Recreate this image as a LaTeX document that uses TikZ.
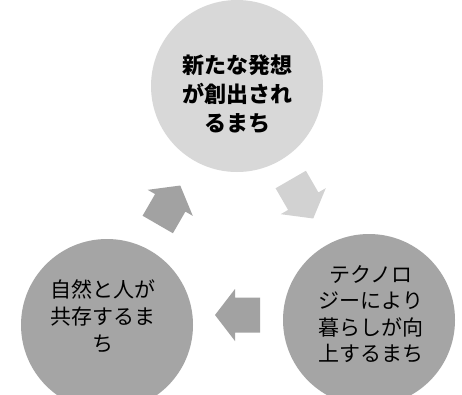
\documentclass[tikz,border=0pt]{standalone}
\usepackage{fontspec}
\newfontfamily\jpfont{Noto Sans CJK JP}
\definecolor{lightdisc}{HTML}{D8D8D8}
\definecolor{darkdisc}{HTML}{A5A5A5}
\definecolor{lightarrow}{HTML}{D2D2D2}
\definecolor{darkarrow}{HTML}{A2A2A2}

\begin{document}
\begin{tikzpicture}[x=1pt,y=-1pt,
    disc/.style={circle,inner sep=0pt,minimum size=172pt},
    disctext/.style={align=center,inner sep=0pt,text=black,font=\jpfont\fontsize{21}{27}\selectfont}]
                \useasboundingbox (0,0) rectangle (462,394);
                \fill [white] (0,0) rectangle (462,394);
                \node [disc,fill=lightdisc] (idea) at (237,86) {};
                \node [disc,fill=darkdisc] (nature) at (107,325) {};
                \node [disc,fill=darkdisc] (tech) at (369,320) {};
                \node [disctext,font=\jpfont\bfseries\fontsize{22}{29}\selectfont] (ideatext) at ([yshift=-8pt]idea.center) {新たな発想\\が創出され\\るまち};
                \node [disctext] (naturetext) at ([xshift=-4pt,yshift=9pt]nature.center) {自然と人が\\共存するま\\ち};
                \node [disctext,font=\jpfont\fontsize{21}{26.5}\selectfont] (techtext) at ([xshift=2pt,yshift=6pt]tech.center) {テクノロ\\ジーにより\\暮らしが向\\上するまち};
                \fill [lightarrow,shift={(302,199)},rotate=-60] (-22.5,-17.5) -- (2.5,-17.5) -- (2.5,-26) -- (22.5,0) -- (2.5,26) -- (2.5,17.5) -- (-22.5,17.5) -- cycle;
                \fill [darkarrow,shift={(237.5,315)},rotate=180] (-22.5,-17.5) -- (2.5,-17.5) -- (2.5,-26) -- (22.5,0) -- (2.5,26) -- (2.5,17.5) -- (-22.5,17.5) -- cycle;
                \fill [darkarrow,shift={(169,205)},rotate=60] (-22.5,-17.5) -- (2.5,-17.5) -- (2.5,-26) -- (22.5,0) -- (2.5,26) -- (2.5,17.5) -- (-22.5,17.5) -- cycle;
            \end{tikzpicture}
\end{document}
